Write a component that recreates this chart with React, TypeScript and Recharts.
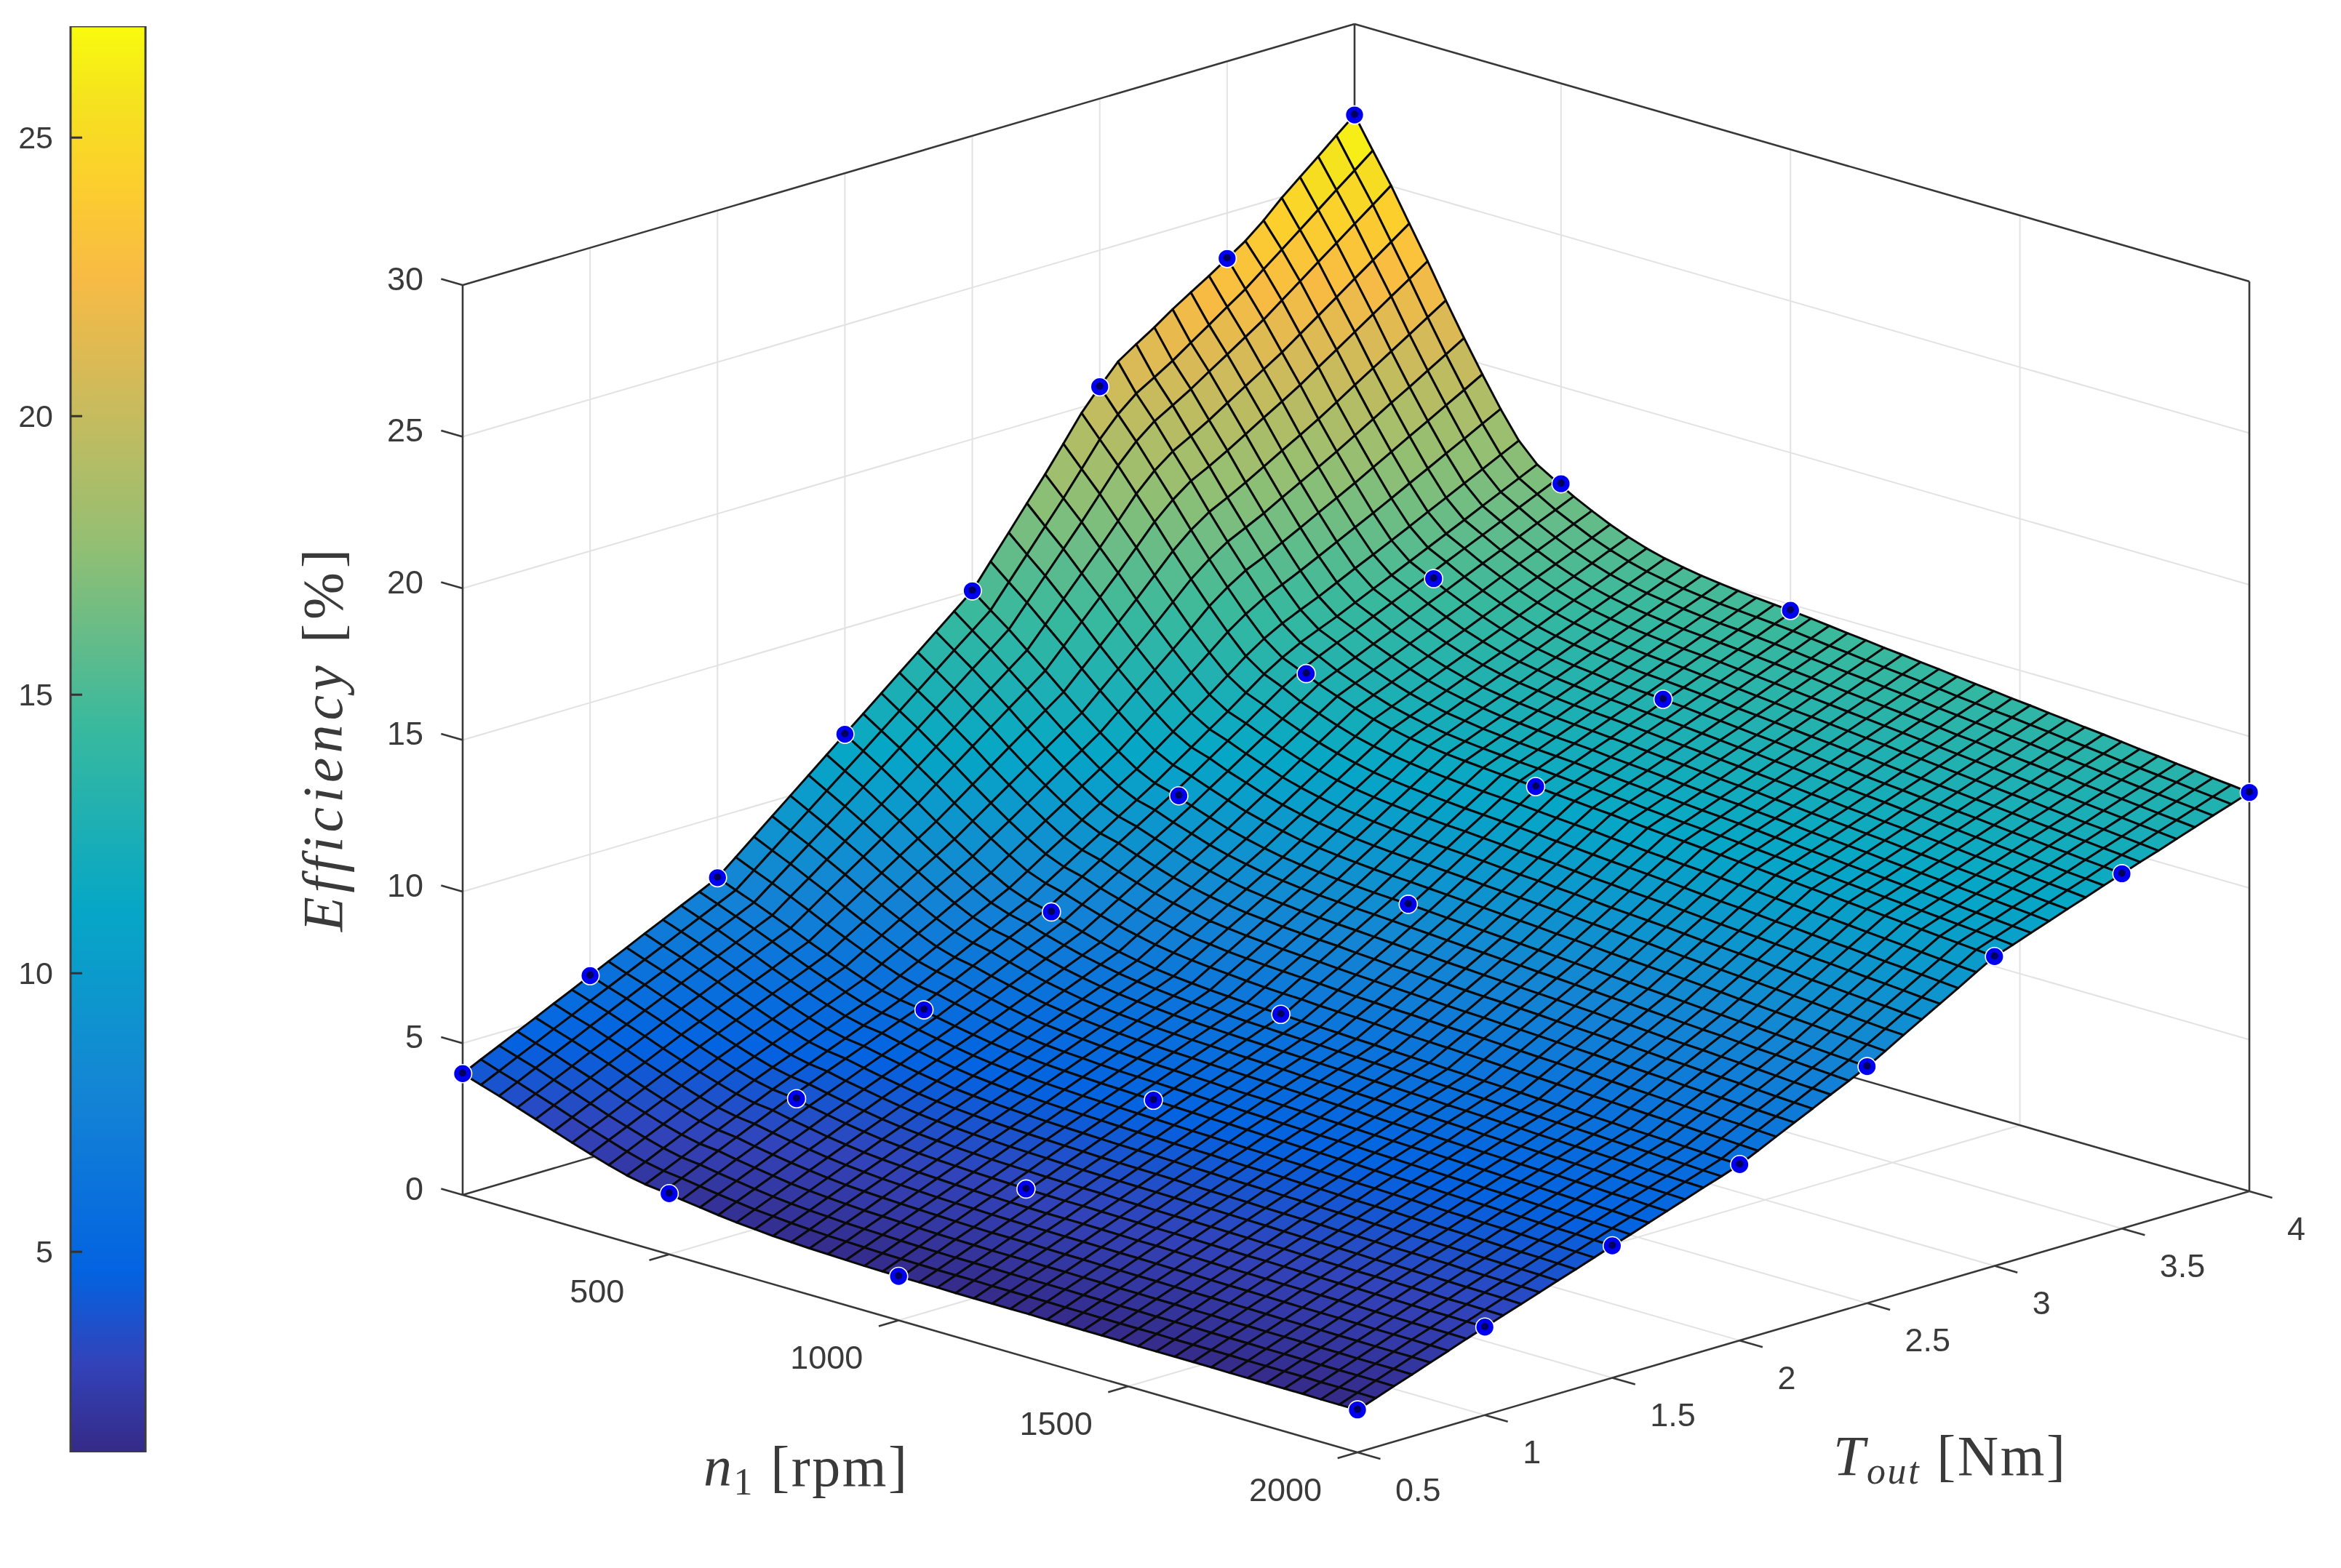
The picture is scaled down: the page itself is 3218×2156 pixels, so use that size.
import { Bar, ComposedChart, ReferenceLine, Scatter, ScatterChart, XAxis, YAxis } from 'recharts'

const WIDTH = 3218
const HEIGHT = 2156

// measured points (blue markers)
const markerSpeeds = [50, 500, 1000, 2000]
const markerTorques = [0.5, 1, 1.5, 2, 2.5, 3, 3.5, 4]
const effAt50 = [4, 6, 8, 11.5, 15, 20.5, 23.5, 27]
const effAt500 = [2, 3.9, 5.6, 7.6, 10.2, 13, 14.9, 16.8]
const effAt1000 = [1.45, 3.1, 4.8, 6.4, 8.8, 11.45, 13.1, 14.8]
const effAt2000 = [1.4, 2.9, 4.35, 5.8, 7.8, 10.2, 11.7, 13.15]
const markerRows = [effAt50, effAt500, effAt1000, effAt2000]

const speedTicks = [500, 1000, 1500, 2000]
const torqueTicks = [0.5, 1, 1.5, 2, 2.5, 3, 3.5, 4]
const effTicks = [0, 5, 10, 15, 20, 25, 30]
const barTicks = [5, 10, 15, 20, 25]

// parula, position in the colour range -> colour
const parulaAt = [0, 0.0635, 0.127, 0.254, 0.381, 0.508, 0.635, 0.762, 0.825, 0.889, 0.952, 1]
const parulaHex = ['#352a87', '#3243ba', '#0363e1', '#1485d4', '#06a7c6', '#38b99e', '#92bf73', '#d9ba56', '#f8bb44', '#fcce2e', '#f5e41d', '#f9fb0e']
const COLOR_MIN = 1.4
const COLOR_MAX = 27

// mesh heights in hundredths of a percent, one row per speed line, one column per torque line.
// hand estimates by eye, anchored on the markers and the surface outline
const meshHundredths = [
[400,429,457,486,514,543,571,600,629,657,686,714,743,771,800,850,900,950,1000,1050,1100,1150,1200,1250,1300,1350,1400,1450,1500,1579,1657,1736,1814,1897,1981,2050,2115,2155,2193,2235,2273,2310,2350,2390,2440,2497,2548,2598,2650,2700],
[380,408,437,465,494,522,551,579,607,635,663,692,720,748,776,824,872,920,968,1016,1064,1112,1161,1209,1258,1307,1356,1404,1453,1528,1602,1677,1752,1831,1911,1976,2027,2063,2100,2142,2183,2225,2266,2314,2361,2409,2457,2505,2552,2600],
[361,389,418,446,474,503,531,559,587,614,642,670,698,725,753,799,845,891,936,982,1028,1074,1122,1169,1217,1264,1312,1359,1407,1478,1549,1620,1691,1766,1842,1904,1953,1988,2024,2064,2103,2143,2183,2229,2274,2320,2365,2411,2456,2502],
[340,368,396,424,453,481,509,537,564,592,619,646,673,701,728,772,815,859,902,946,989,1033,1079,1125,1171,1218,1264,1310,1356,1423,1490,1557,1624,1694,1766,1825,1871,1904,1939,1978,2016,2054,2092,2135,2178,2221,2265,2308,2351,2394],
[319,347,375,403,431,459,487,515,542,569,596,622,649,676,703,744,786,827,868,909,951,992,1037,1082,1127,1172,1217,1261,1306,1369,1432,1495,1558,1624,1691,1746,1791,1822,1856,1892,1929,1965,2002,2043,2083,2124,2165,2206,2246,2287],
[297,325,353,381,409,436,464,492,518,545,571,597,623,650,676,715,754,793,832,871,910,949,992,1036,1079,1123,1166,1210,1253,1312,1370,1429,1488,1550,1612,1664,1706,1736,1768,1803,1838,1872,1907,1945,1984,2022,2060,2098,2137,2175],
[276,304,331,359,387,415,442,470,496,522,548,574,599,625,651,688,724,761,798,835,871,908,950,992,1034,1076,1118,1160,1202,1257,1311,1366,1421,1479,1537,1585,1625,1654,1684,1718,1751,1784,1817,1853,1889,1925,1960,1996,2032,2068],
[256,284,311,339,366,394,421,449,474,500,525,551,576,602,627,662,696,731,765,800,834,869,910,950,991,1032,1073,1113,1154,1205,1256,1307,1358,1410,1465,1510,1548,1575,1605,1636,1668,1699,1731,1765,1798,1832,1865,1899,1932,1966],
[237,264,292,319,347,374,402,429,454,479,504,529,554,579,604,637,669,702,734,767,799,832,872,911,951,990,1030,1069,1109,1156,1203,1250,1298,1347,1397,1439,1474,1501,1529,1559,1589,1619,1649,1680,1712,1743,1775,1806,1838,1869],
[220,247,275,302,329,356,384,411,436,460,485,510,535,559,584,615,645,676,707,738,768,799,837,876,914,953,991,1030,1068,1112,1156,1200,1243,1289,1335,1375,1408,1435,1461,1490,1519,1547,1576,1605,1635,1664,1694,1723,1753,1782],
[208,235,262,289,317,344,371,398,423,447,472,496,521,545,570,599,629,658,688,717,747,776,814,851,889,926,964,1001,1039,1081,1122,1164,1205,1249,1293,1330,1362,1388,1413,1441,1469,1496,1524,1552,1580,1608,1637,1665,1693,1721],
[201,228,255,283,310,337,364,391,415,440,464,488,513,537,561,590,618,647,676,705,733,762,799,836,873,911,948,985,1022,1062,1103,1143,1183,1225,1267,1304,1334,1361,1386,1413,1440,1467,1494,1522,1549,1576,1603,1631,1658,1685],
[192,219,245,272,298,325,351,378,402,426,451,475,499,524,548,576,603,631,659,687,714,742,779,815,852,889,926,962,999,1039,1078,1118,1158,1198,1237,1277,1304,1330,1357,1383,1410,1437,1463,1490,1517,1543,1570,1597,1623,1650],
[184,210,236,262,288,314,340,366,390,415,439,463,488,512,536,563,590,617,643,670,697,724,760,797,833,869,905,942,978,1017,1057,1096,1136,1175,1215,1254,1280,1306,1332,1358,1384,1410,1436,1462,1489,1515,1541,1567,1594,1620],
[176,202,227,253,278,304,329,355,379,404,428,452,476,501,525,551,577,603,629,655,681,707,743,779,815,850,886,922,958,997,1036,1075,1115,1154,1193,1232,1258,1283,1309,1334,1360,1385,1411,1437,1463,1489,1514,1540,1566,1592],
[169,194,219,244,270,295,320,345,369,394,418,442,467,491,515,540,566,591,617,642,668,693,729,764,800,835,871,906,942,981,1019,1058,1097,1136,1174,1213,1238,1263,1288,1314,1339,1364,1389,1415,1440,1466,1491,1517,1543,1568],
[164,189,213,238,263,288,312,337,361,386,410,434,459,483,507,532,557,582,606,631,656,681,716,752,787,822,857,893,928,967,1005,1044,1082,1121,1159,1198,1223,1247,1272,1297,1322,1346,1371,1396,1422,1447,1472,1497,1523,1548],
[159,184,208,233,257,282,306,331,355,380,404,428,453,477,501,525,550,574,598,623,647,671,706,741,776,811,846,881,916,954,993,1031,1070,1108,1147,1185,1210,1234,1259,1283,1308,1332,1357,1382,1407,1432,1457,1482,1507,1532],
[156,180,205,229,253,277,302,326,350,375,399,423,447,472,496,520,544,568,592,616,640,664,699,734,769,803,838,873,908,946,985,1023,1061,1099,1138,1176,1200,1225,1249,1273,1297,1322,1346,1371,1396,1421,1445,1470,1495,1520],
[153,177,201,225,250,274,298,322,346,371,395,419,443,468,492,516,539,563,587,611,634,658,693,727,762,797,832,866,901,939,977,1015,1054,1092,1130,1168,1192,1216,1240,1265,1289,1313,1337,1362,1386,1411,1436,1461,1485,1510],
[151,175,199,223,247,271,295,319,343,368,392,416,440,465,489,512,536,559,582,606,629,653,688,722,757,791,826,860,895,933,971,1009,1048,1086,1124,1162,1186,1210,1234,1258,1282,1306,1330,1355,1379,1404,1428,1453,1477,1502],
[149,173,197,221,245,268,292,316,340,365,389,413,437,462,486,509,533,556,579,602,626,649,683,718,752,787,821,856,890,928,966,1004,1043,1081,1119,1157,1181,1204,1228,1252,1276,1299,1323,1348,1372,1397,1421,1446,1470,1495],
[147,171,195,219,243,266,290,314,338,363,387,411,435,460,484,507,530,553,576,599,622,645,679,714,748,783,817,852,886,924,962,1000,1038,1076,1114,1152,1176,1199,1223,1247,1271,1294,1318,1342,1367,1391,1416,1440,1465,1489],
[146,170,193,217,241,265,288,312,336,361,385,409,433,458,482,505,528,551,574,596,619,642,676,711,745,780,814,849,883,921,959,997,1035,1072,1110,1148,1172,1195,1219,1243,1267,1290,1314,1338,1363,1387,1411,1436,1460,1484],
[145,169,192,216,239,263,286,310,334,359,383,407,431,456,480,503,526,548,571,594,617,640,674,708,741,775,810,845,880,917,955,993,1030,1068,1106,1144,1167,1191,1215,1238,1262,1285,1309,1333,1357,1382,1406,1430,1455,1479],
[145,168,191,215,238,262,285,309,333,357,381,405,429,454,478,501,524,546,569,592,614,637,670,704,737,771,806,841,876,913,951,989,1026,1064,1101,1139,1162,1186,1209,1233,1257,1280,1304,1328,1352,1376,1400,1424,1449,1473],
[145,168,191,214,238,261,284,308,332,356,380,404,428,452,476,499,521,544,567,589,612,635,668,700,734,767,802,837,872,909,946,984,1021,1059,1096,1134,1157,1181,1204,1228,1251,1275,1298,1322,1346,1370,1394,1418,1442,1466],
[144,168,191,214,238,261,284,308,332,355,379,403,426,450,474,497,519,542,565,587,610,633,666,698,731,765,799,833,868,905,942,979,1017,1054,1092,1129,1152,1176,1199,1222,1246,1269,1293,1316,1340,1364,1388,1411,1435,1459],
[144,167,190,214,237,260,284,307,330,354,378,402,425,449,473,495,518,540,562,585,607,630,663,695,728,762,795,829,864,901,938,976,1013,1050,1088,1125,1148,1171,1194,1218,1241,1264,1287,1311,1334,1358,1382,1405,1429,1453],
[144,167,190,213,236,260,283,306,329,353,377,400,424,447,471,493,516,538,560,583,605,628,660,693,725,758,792,826,860,897,934,971,1008,1045,1082,1119,1142,1165,1188,1212,1235,1258,1281,1305,1328,1352,1375,1399,1422,1446],
[144,167,190,213,236,259,282,305,328,352,375,399,422,445,469,491,514,536,558,580,603,625,657,690,722,755,788,822,856,893,930,967,1003,1040,1077,1114,1137,1160,1183,1206,1230,1253,1276,1299,1323,1346,1369,1393,1416,1440],
[144,167,190,212,235,258,281,304,327,351,374,397,420,444,467,489,511,534,556,578,601,623,655,687,719,752,785,819,852,888,925,962,999,1036,1072,1109,1132,1155,1178,1201,1224,1247,1270,1293,1317,1340,1363,1386,1410,1433],
[143,166,189,212,235,258,281,304,327,350,373,396,419,442,465,487,509,532,554,576,599,621,653,685,717,750,782,815,848,885,921,957,994,1032,1068,1105,1128,1151,1174,1197,1219,1242,1265,1288,1311,1334,1357,1380,1404,1427],
[143,166,189,211,234,257,280,303,326,349,372,395,418,441,464,486,507,529,552,574,596,618,650,683,714,747,779,812,844,881,917,953,990,1027,1063,1100,1123,1146,1168,1191,1214,1236,1259,1282,1305,1328,1351,1374,1397,1420],
[143,165,188,211,234,256,279,302,325,348,370,393,416,439,462,484,505,527,550,572,594,616,648,680,712,744,776,808,840,876,913,949,986,1022,1059,1095,1118,1141,1163,1186,1208,1231,1254,1277,1300,1322,1345,1368,1390,1413],
[143,165,188,210,233,256,278,301,324,347,369,392,415,437,460,482,503,525,548,569,591,613,645,677,709,740,772,804,836,872,909,945,981,1017,1054,1090,1113,1135,1158,1180,1203,1225,1248,1271,1293,1316,1339,1362,1384,1407],
[143,165,187,210,232,255,277,300,322,345,368,390,413,435,458,480,501,523,546,567,589,611,642,674,706,737,769,800,832,868,904,940,976,1012,1049,1085,1108,1130,1152,1175,1197,1220,1242,1265,1288,1310,1332,1355,1377,1400],
[142,165,187,209,232,254,277,300,322,344,367,389,411,434,456,478,500,521,544,565,587,609,640,672,703,734,765,797,828,864,899,935,971,1008,1044,1080,1103,1125,1147,1170,1192,1215,1237,1259,1282,1304,1327,1349,1372,1394],
[142,164,187,209,231,254,276,299,321,343,365,388,410,432,455,476,498,519,541,563,584,606,637,669,700,731,762,793,824,860,895,931,967,1003,1039,1075,1097,1120,1142,1164,1186,1209,1231,1253,1276,1298,1320,1343,1365,1387],
[142,164,186,208,231,253,275,298,320,342,364,386,409,431,453,474,496,517,539,561,582,604,634,666,697,727,758,789,820,856,891,927,963,998,1034,1070,1092,1114,1137,1159,1181,1204,1226,1248,1270,1292,1314,1337,1359,1381],
[142,164,186,208,230,252,275,297,319,341,363,385,407,429,451,472,494,515,537,558,580,601,632,663,694,724,754,785,816,852,887,923,958,994,1029,1065,1087,1109,1131,1153,1175,1198,1220,1242,1264,1286,1308,1330,1352,1374],
[142,164,186,207,229,251,274,296,318,339,361,383,405,427,449,470,492,513,535,556,578,599,630,660,691,720,751,781,812,847,883,918,954,989,1025,1060,1082,1104,1126,1148,1171,1193,1215,1237,1258,1280,1302,1324,1346,1368],
[141,163,185,207,229,251,274,296,318,339,361,383,404,426,448,469,490,511,533,554,576,597,627,657,688,718,748,778,808,843,879,914,949,984,1020,1055,1077,1099,1121,1143,1165,1187,1209,1231,1253,1274,1296,1318,1339,1361],
[141,163,185,207,229,251,273,295,317,338,360,381,403,424,446,467,488,510,531,552,573,594,624,654,684,714,744,774,804,839,874,909,945,980,1015,1050,1072,1094,1116,1137,1159,1181,1203,1225,1246,1268,1289,1311,1332,1354],
[141,163,185,206,228,250,272,294,316,337,359,380,401,423,444,465,486,508,529,550,571,592,622,651,681,711,741,770,800,835,870,905,940,975,1010,1045,1067,1089,1110,1132,1154,1176,1198,1219,1240,1262,1283,1305,1326,1348],
[141,163,184,206,228,249,271,293,314,336,357,378,399,421,442,463,484,506,527,548,569,590,619,648,678,708,737,767,796,831,865,900,935,970,1005,1040,1062,1083,1105,1127,1149,1170,1192,1213,1234,1256,1277,1298,1320,1341],
[141,162,184,205,227,249,270,292,313,335,356,377,398,419,440,461,482,503,524,545,566,587,616,645,675,704,733,763,792,826,861,896,931,966,1000,1035,1057,1078,1100,1122,1143,1165,1187,1208,1229,1250,1271,1292,1314,1335],
[140,162,184,205,227,249,270,292,313,334,355,376,397,418,439,460,481,502,522,543,564,585,614,643,672,700,729,759,788,823,857,892,926,961,995,1030,1052,1073,1095,1116,1138,1159,1181,1202,1223,1244,1265,1286,1307,1328],
[140,162,184,205,227,248,270,291,312,333,354,375,395,416,437,458,478,499,520,541,561,582,611,640,669,697,726,755,784,818,852,887,921,956,990,1025,1047,1068,1090,1111,1133,1154,1176,1197,1217,1238,1259,1280,1301,1322],
[140,161,183,204,226,247,269,290,311,331,352,373,393,414,435,455,476,497,518,539,559,580,608,637,666,694,723,751,780,814,849,883,917,951,986,1020,1041,1063,1084,1106,1127,1149,1170,1191,1211,1232,1253,1274,1294,1315],
]

const MESH_LINES = 50
const meshSpeeds = Array.from({ length: MESH_LINES }, (_, i) => 50 + (i * 1950) / (MESH_LINES - 1))
const meshTorques = Array.from({ length: MESH_LINES }, (_, j) => 0.5 + (j * 3.5) / (MESH_LINES - 1))

// 3d view -> plot position, same idea as view(az, el) with an orthographic camera
function project(speed: number, torque: number, eff: number) {
  const a = (speed - 50) / 1950
  const b = (torque - 0.5) / 3.5
  return { x: 636 + 1230 * a + 1226 * b, y: 1643 + 354 * a - 359 * b - 41.7 * eff }
}

function parulaColor(value: number) {
  const t = Math.min(1, Math.max(0, (value - COLOR_MIN) / (COLOR_MAX - COLOR_MIN)))
  let k = 0
  while (k < parulaAt.length - 2 && parulaAt[k + 1] < t) k++
  const f = (t - parulaAt[k]) / (parulaAt[k + 1] - parulaAt[k])
  const channel = (hex: string, at: number) => parseInt(hex.slice(at, at + 2), 16)
  const mix = (at: number) => Math.round(channel(parulaHex[k], at) + f * (channel(parulaHex[k + 1], at) - channel(parulaHex[k], at)))
  return `rgb(${mix(1)},${mix(3)},${mix(5)})`
}

const meshVertices = meshHundredths.flatMap((row, i) => row.map((z, j) => project(meshSpeeds[i], meshTorques[j], z / 100)))
const markers = markerRows.flatMap((row, i) => row.map((z, j) => project(markerSpeeds[i], markerTorques[j], z)))

const seg = (from: number[], to: number[]) => [project(from[0], from[1], from[2]), project(to[0], to[1], to[2])]

const gridPoints = [
  ...torqueTicks.slice(1, -1).flatMap(t => [...seg([50, t, 0], [50, t, 30]), ...seg([50, t, 0], [2000, t, 0])]),
  ...speedTicks.slice(0, -1).flatMap(n => [...seg([n, 4, 0], [n, 4, 30]), ...seg([n, 0.5, 0], [n, 4, 0])]),
  ...effTicks.slice(1, -1).flatMap(z => [...seg([50, 0.5, z], [50, 4, z]), ...seg([50, 4, z], [2000, 4, z])]),
]

const boxPoints = [
  ...seg([50, 0.5, 0], [50, 0.5, 30]),
  ...seg([50, 4, 0], [50, 4, 30]),
  ...seg([2000, 4, 0], [2000, 4, 30]),
  ...seg([50, 0.5, 30], [50, 4, 30]),
  ...seg([50, 4, 30], [2000, 4, 30]),
  ...seg([50, 0.5, 0], [2000, 0.5, 0]),
  ...seg([2000, 0.5, 0], [2000, 4, 0]),
  ...seg([50, 0.5, 0], [50, 4, 0]),
  ...seg([50, 4, 0], [2000, 4, 0]),
  ...effTicks.flatMap(z => seg([50, 0.5, z], [50 - 47, 0.5, z])),
  ...speedTicks.flatMap(n => seg([n, 0.5, 0], [n, 0.5 - 0.078, 0])),
  ...torqueTicks.flatMap(t => seg([2000, t, 0], [2000 + 50, t, 0])),
]

const effLabels = effTicks.map(z => ({ ...project(50, 0.5, z), label: String(z) }))
const speedLabels = speedTicks.map(n => ({ ...project(n, 0.5, 0), label: String(n) }))
const torqueLabels = torqueTicks.map(t => ({ ...project(2000, t, 0), label: String(t) }))

const TEXT_FONT = '"Liberation Sans", Arial, sans-serif'
const MATH_FONT = '"Liberation Serif", "Times New Roman", serif'
const TEXT_COLOR = '#3a3a3a'

// pairs of points -> separate segments
const segments = (stroke: string, width: number) => (props: any) => {
  const pts = props.points
  let d = ''
  for (let k = 0; k + 1 < pts.length; k += 2) d += `M${pts[k].x},${pts[k].y}L${pts[k + 1].x},${pts[k + 1].y}`
  return <path d={d} stroke={stroke} strokeWidth={width} fill="none" />
}

// every vertex comes back in pixels from the chart scales, quads are drawn back to front
function surfaceLine(props: any) {
  const pts = props.points
  const quads = []
  for (let i = 0; i < MESH_LINES - 1; i++) {
    for (let j = MESH_LINES - 2; j >= 0; j--) {
      const p = [pts[i * MESH_LINES + j], pts[i * MESH_LINES + j + 1], pts[(i + 1) * MESH_LINES + j + 1], pts[(i + 1) * MESH_LINES + j]]
      const mean = (meshHundredths[i][j] + meshHundredths[i][j + 1] + meshHundredths[i + 1][j] + meshHundredths[i + 1][j + 1]) / 400
      quads.push(
        <path
          key={`${i}-${j}`}
          d={`M${p[0].x},${p[0].y}L${p[1].x},${p[1].y}L${p[2].x},${p[2].y}L${p[3].x},${p[3].y}Z`}
          fill={parulaColor(mean)}
          stroke="#0a0a0a"
          strokeWidth={3}
          strokeLinejoin="round"
        />,
      )
    }
  }
  return <g>{quads}</g>
}

const noDot = () => null

function MarkerDot(props: any) {
  const { cx, cy } = props
  return (
    <g>
      <circle cx={cx} cy={cy} r={12.5} fill="#0000f0" stroke="#ffffff" strokeWidth={1.6} />
      <circle cx={cx} cy={cy - 1} r={5} fill="#00005c" />
    </g>
  )
}

const tickText = (dx: number, dy: number, anchor: string) => (props: any) => (
  <text x={props.cx + dx} y={props.cy + dy} textAnchor={anchor} dominantBaseline="central" fontFamily={TEXT_FONT} fontSize={45} fill={TEXT_COLOR}>
    {props.payload.label}
  </text>
)

const colorBarData = [{ name: 'bar', range: [COLOR_MIN, COLOR_MAX] }]

function barTick(props: any) {
  return (
    <text x={73} y={props.y} textAnchor="end" dominantBaseline="central" fontFamily={TEXT_FONT} fontSize={43} fill={TEXT_COLOR}>
      {props.payload.value}
    </text>
  )
}

function barTickMark(props: any) {
  return <line x1={props.x1} y1={props.y1} x2={props.x1 + 16} y2={props.y1} stroke="#333" strokeWidth={3} />
}

function ColorBar() {
  return (
    <div style={{ position: 'absolute', left: 0, top: 0 }}>
      <ComposedChart width={300} height={HEIGHT} data={colorBarData} margin={{ top: 36, right: 100, bottom: 159, left: 0 }} barCategoryGap={0}>
        <defs>
          <linearGradient id="parulaBar" x1="0" y1="1" x2="0" y2="0">
            {parulaAt.map((t, k) => (
              <stop key={t} offset={t} stopColor={parulaHex[k]} />
            ))}
          </linearGradient>
        </defs>
        <XAxis dataKey="name" hide />
        <YAxis width={97} domain={[COLOR_MIN, COLOR_MAX]} ticks={barTicks} tick={barTick} tickLine={false} axisLine={false} allowDataOverflow />
        <Bar dataKey="range" fill="url(#parulaBar)" stroke="#3c3c3c" strokeWidth={3} isAnimationActive={false} />
        {barTicks.map(t => (
          <ReferenceLine key={t} y={t} shape={barTickMark} />
        ))}
      </ComposedChart>
    </div>
  )
}

const noLigatures = { fontVariantLigatures: 'none' as const }

function Surface() {
  return (
    <div style={{ position: 'absolute', left: 0, top: 0 }}>
      <ScatterChart width={WIDTH} height={HEIGHT} margin={{ top: 0, right: 0, bottom: 0, left: 0 }}>
        <XAxis type="number" dataKey="x" domain={[0, WIDTH]} hide />
        <YAxis type="number" dataKey="y" domain={[0, HEIGHT]} reversed hide />
        <Scatter data={gridPoints} line={segments('#e2e2e2', 2)} shape={noDot} isAnimationActive={false} />
        <Scatter data={boxPoints} line={segments('#383838', 2.6)} shape={noDot} isAnimationActive={false} />
        <Scatter data={meshVertices} line={surfaceLine} shape={noDot} isAnimationActive={false} />
        <Scatter data={markers} shape={MarkerDot} isAnimationActive={false} />
        <Scatter data={effLabels} shape={tickText(-54, -9, 'end')} isAnimationActive={false} />
        <Scatter data={speedLabels} shape={tickText(-99, 51, 'middle')} isAnimationActive={false} />
        <Scatter data={torqueLabels} shape={tickText(52, 51, 'start')} isAnimationActive={false} />
        <text x={967} y={2043} fontFamily={MATH_FONT} fontSize={78} fill={TEXT_COLOR} textLength={280} lengthAdjust="spacing" style={noLigatures}>
          <tspan fontStyle="italic">n</tspan>
          <tspan fontSize={52} dy={12}>1</tspan>
          <tspan dy={-12}> [rpm]</tspan>
        </text>
        <text x={2520} y={2028} fontFamily={MATH_FONT} fontSize={78} fill={TEXT_COLOR} textLength={319} lengthAdjust="spacing" style={noLigatures}>
          <tspan fontStyle="italic">T</tspan>
          <tspan fontStyle="italic" fontSize={52} dy={12}>out</tspan>
          <tspan dy={-12}> [Nm]</tspan>
        </text>
        <text x={0} y={0} transform="translate(470,1281) rotate(-90)" fontFamily={MATH_FONT} fontSize={78} fill={TEXT_COLOR} textLength={526} lengthAdjust="spacing" style={noLigatures}>
          <tspan fontStyle="italic">Efficiency</tspan>
          <tspan> [%]</tspan>
        </text>
      </ScatterChart>
    </div>
  )
}

export default function App() {
  return (
    <div style={{ position: 'absolute', left: 0, top: 0, width: WIDTH, height: HEIGHT, background: '#fff', filter: 'blur(0.7px)' }}>
      <Surface />
      <ColorBar />
    </div>
  )
}
